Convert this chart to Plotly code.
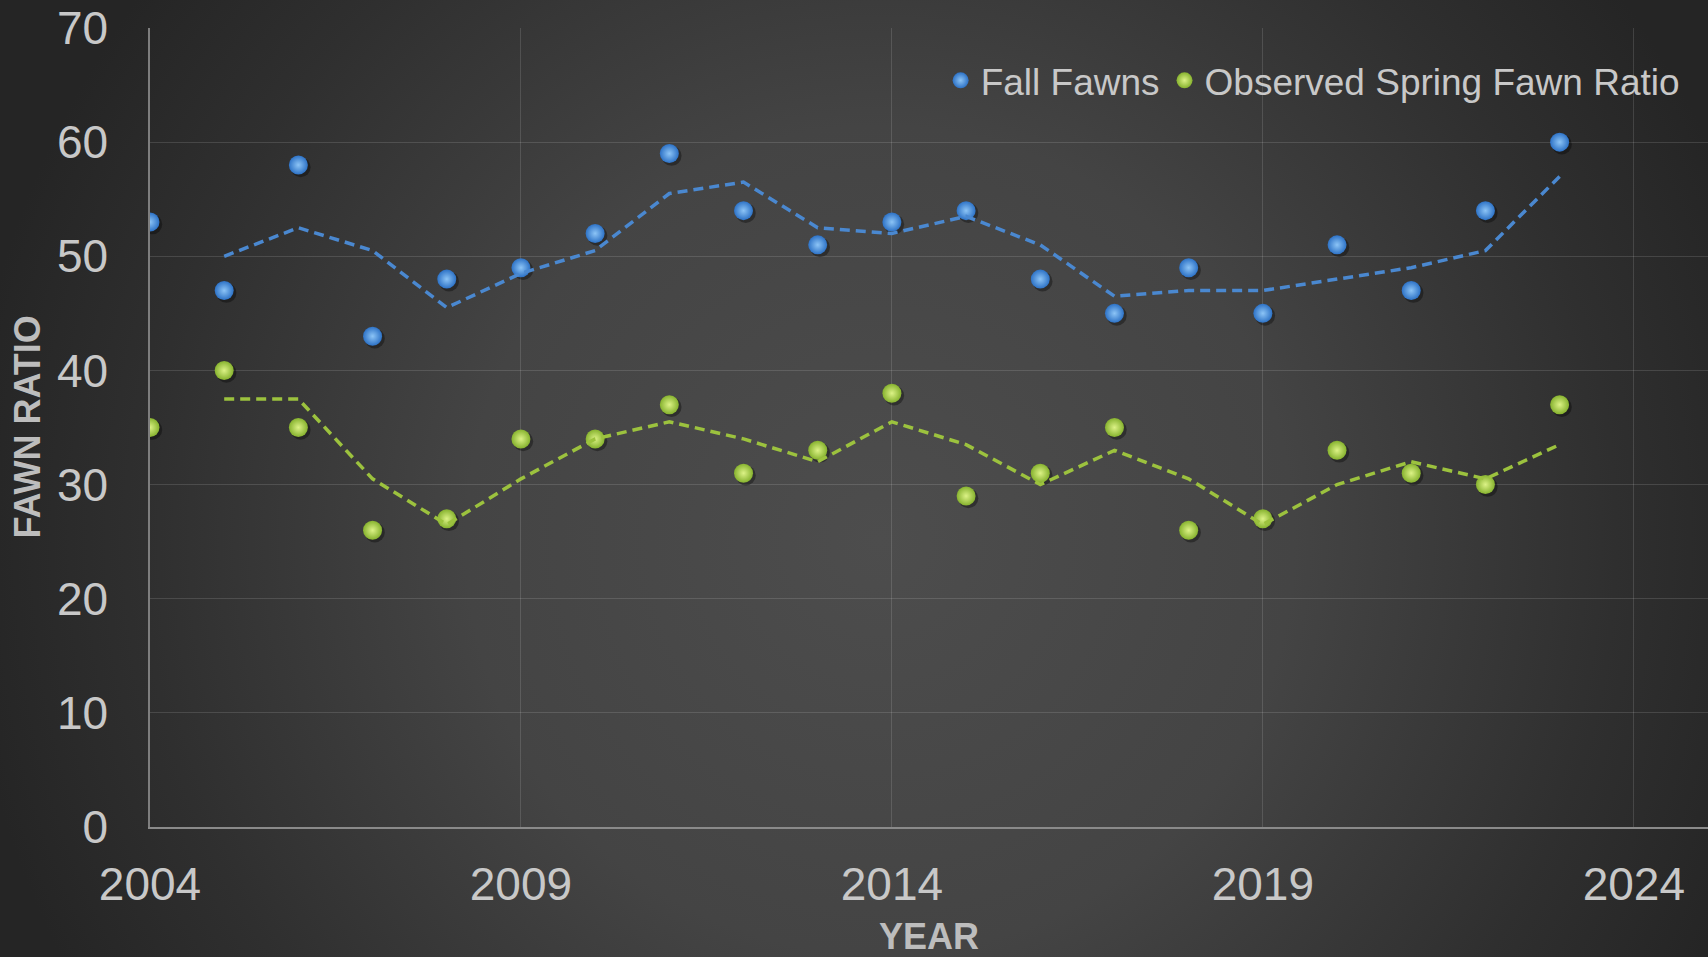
import base64
import plotly.graph_objects as go

# ---- data ----
years = [2004, 2005, 2006, 2007, 2008, 2009, 2010, 2011, 2012, 2013,
         2014, 2015, 2016, 2017, 2018, 2019, 2020, 2021, 2022, 2023]
fall_fawns = [53, 47, 58, 43, 48, 49, 52, 59, 54, 51,
              53, 54, 48, 45, 49, 45, 51, 47, 54, 60]
spring_ratio = [35, 40, 35, 26, 27, 34, 34, 37, 31, 33,
                38, 29, 31, 35, 26, 27, 33, 31, 30, 37]

trend_years = [2005, 2006, 2007, 2008, 2009, 2010, 2011, 2012, 2013, 2014,
               2015, 2016, 2017, 2018, 2019, 2020, 2021, 2022, 2023]
fall_trend = [50, 52.5, 50.5, 45.5, 48.5, 50.5, 55.5, 56.5, 52.5, 52,
              53.5, 51, 46.5, 47, 47, 48, 49, 50.5, 57]
spring_trend = [37.5, 37.5, 30.5, 26.5, 30.5, 34, 35.5, 34, 32, 35.5,
                33.5, 30, 33, 30.5, 26.5, 30, 32, 30.5, 33.5]

series_names = ["Fall Fawns", "Observed Spring Fawn Ratio"]
x_title = "YEAR"
y_title = "FAWN RATIO"

# ---- layout geometry ----
W, H = 1708, 957
ML, MR, MT, MB = 150, 0, 28, 130
PW, PH = W - ML - MR, H - MT - MB

svg = f'''<svg xmlns="http://www.w3.org/2000/svg" width="{W}" height="{H}" viewBox="0 0 {W} {H}">
<defs><radialGradient id="g" gradientUnits="userSpaceOnUse" cx="880" cy="540" r="920">
<stop offset="0" stop-color="#4d4d4d"/><stop offset="0.45" stop-color="#444444"/>
<stop offset="0.8" stop-color="#2f2f2f"/><stop offset="1" stop-color="#252525"/></radialGradient></defs>
<rect width="{W}" height="{H}" fill="url(#g)"/></svg>'''
bg_src = "data:image/svg+xml;base64," + base64.b64encode(svg.encode()).decode()

BLUE_EDGE, BLUE_CENTER = "#2d72c6", "#8cc4f6"
GREEN_EDGE, GREEN_CENTER = "#86b22e", "#dcf286"
BLUE_LINE = "#4a88d0"
GREEN_LINE = "#9cc23e"

fig = go.Figure()

# soft shadows under the spheres
dx, dy = 0.03, -0.2
for vals in (fall_fawns, spring_ratio):
    fig.add_trace(go.Scatter(
        x=[v + dx for v in years], y=[v + dy for v in vals], mode="markers",
        marker=dict(size=20, color="rgba(0,0,0,0.35)", line=dict(width=0)),
        showlegend=False, hoverinfo="skip"))

fig.add_trace(go.Scatter(
    x=years, y=fall_fawns, mode="markers", name=series_names[0],
    marker=dict(size=19, color=BLUE_EDGE, line=dict(width=0),
                gradient=dict(type="radial", color=BLUE_CENTER))))
fig.add_trace(go.Scatter(
    x=years, y=spring_ratio, mode="markers", name=series_names[1],
    marker=dict(size=19, color=GREEN_EDGE, line=dict(width=0),
                gradient=dict(type="radial", color=GREEN_CENTER))))

fig.add_trace(go.Scatter(
    x=trend_years, y=fall_trend, mode="lines", showlegend=False,
    line=dict(color=BLUE_LINE, width=3.5, dash="10px,6px")))
fig.add_trace(go.Scatter(
    x=trend_years, y=spring_trend, mode="lines", showlegend=False,
    line=dict(color=GREEN_LINE, width=3.5, dash="10px,6px")))

tick_font = dict(family="Liberation Sans, Arial", size=46, color="#c8c8c8")
title_font = dict(family="Liberation Sans, Arial", size=36, color="#bdbdbd")

fig.update_layout(
    width=W, height=H,
    margin=dict(l=ML, r=MR, t=MT, b=MB, pad=0),
    paper_bgcolor="#2e2e2e",
    plot_bgcolor="rgba(0,0,0,0)",
    images=[dict(source=bg_src, xref="paper", yref="paper",
                 x=-ML / PW, y=1 + MT / PH, sizex=W / PW, sizey=H / PH,
                 xanchor="left", yanchor="top", sizing="stretch", layer="below")],
    xaxis=dict(range=[2004, 2025], tick0=2004, dtick=5, showgrid=True,
               gridcolor="rgba(255,255,255,0.13)", gridwidth=1,
               showline=True, linecolor="#8a8a8a", linewidth=2,
               zeroline=False, ticks="", tickfont=tick_font,
               ticklabelstandoff=16),
    yaxis=dict(range=[0, 70], tick0=0, dtick=10, showgrid=True,
               gridcolor="rgba(255,255,255,0.13)", gridwidth=1,
               showline=True, linecolor="#7e7e7e", linewidth=1.5,
               zeroline=False, ticks="", tickfont=tick_font,
               ticklabelstandoff=31),
    annotations=[
        dict(text="<b>" + x_title + "</b>", xref="paper", yref="paper",
             x=0.5, y=(827 - 937) / PH,
             xanchor="center", yanchor="middle", showarrow=False, font=title_font),
        dict(text="<b>" + y_title + "</b>", xref="paper", yref="paper",
             x=(27 - ML) / PW, y=0.5, textangle=-90,
             xanchor="center", yanchor="middle", showarrow=False, font=title_font),
    ],
    legend=dict(orientation="h", x=0.985, xanchor="right", y=0.934, yanchor="middle",
                bgcolor="rgba(0,0,0,0)",
                font=dict(family="Liberation Sans, Arial", size=37, color="#c8c8c8"),
                itemsizing="trace"),
    showlegend=True,
)

fig.write_html("out.html", config={"displayModeBar": False},
               post_script="document.body.style.margin='0';")
